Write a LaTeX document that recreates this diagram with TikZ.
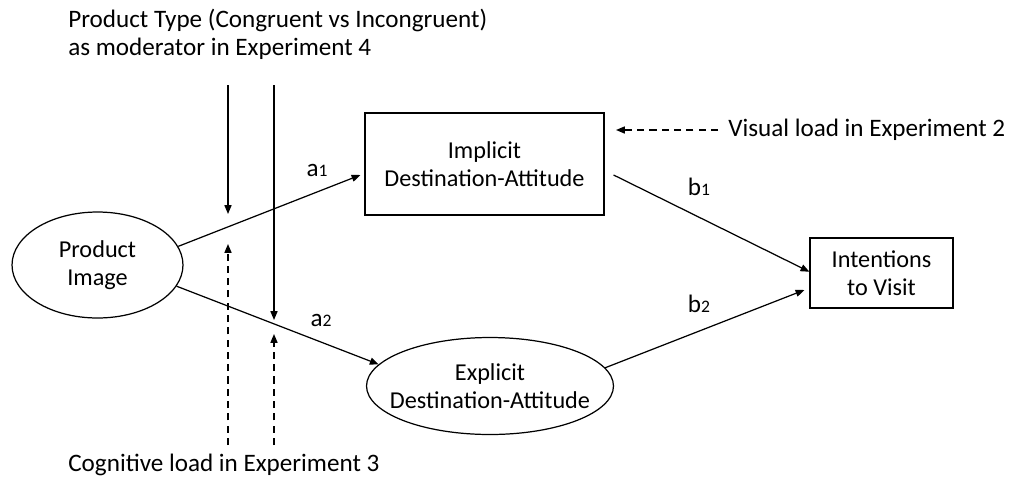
\documentclass[tikz,border=0pt]{standalone}
\usepackage{fontspec}
\setmainfont{Carlito}
\usepackage{tikz}
\usetikzlibrary{shapes.geometric, arrows.meta, positioning}
\tikzstyle{construct} = [ellipse, draw=black, line width=0.7pt, inner sep=0pt]
\tikzstyle{measure} = [rectangle, draw=black, line width=0.7pt, text centered, align=center, font=\fontsize{13.8}{16}\selectfont]
\tikzstyle{inner} = [align=center, font=\fontsize{13.8}{16}\selectfont]
\tikzstyle{note} = [align=left, anchor=west, inner sep=0pt]
\tikzstyle{arrow} = [line width=0.7pt, -{Triangle[length=5pt,width=4pt]}]
\tikzstyle{line} = [draw, arrow]
\tikzstyle{dline} = [draw, arrow, dashed, dash pattern=on 4pt off 3pt]
\newcommand{\sub}[1]{{\fontsize{10}{10}\selectfont #1}}

\begin{document}
\begin{tikzpicture}[x=0.02cm, y=-0.02cm, font=\fontsize{14.3}{16}\selectfont]
        \useasboundingbox (0,0) rectangle (1011,481);

		\node(pimg)   [construct, minimum width=3.42cm, minimum height=2.12cm] at (97.5,265) {};
		\node(pimgt)  [inner] at (pimg) {Product\\Image};
		\node(impl)   [measure, minimum width=4.78cm, minimum height=2.04cm] at (484.5,164) {Implicit\\Destination-Attitude};
		\node(expl)   [construct, minimum width=4.94cm, minimum height=1.94cm] at (490,386) {};
		\node(explt)  [inner] at (expl) {Explicit\\Destination-Attitude};
		\node(intent) [measure, minimum width=2.86cm, minimum height=1.4cm] at (881.5,273) {Intentions\\to Visit};

		\node(ptype) [note] at (68,34) {Product Type (Congruent vs Incongruent)\\as moderator in Experiment 4};
		\node(vis)   [note] at (728,130) {Visual load in Experiment 2};
		\node(cog)   [note] at (68,465) {Cognitive load in Experiment 3};

		\coordinate (m1top) at (228,85);
		\coordinate (m1end) at (228,214);
		\coordinate (m2top) at (274,85);
		\coordinate (m2end) at (274,320);
		\coordinate (c1bot) at (228,445);
		\coordinate (c1end) at (228,244);
		\coordinate (c2bot) at (274,445);
		\coordinate (c2end) at (274,334);
		\coordinate (visend) at (616,130);

		 % Draw edges
		 \path [line] (pimg.13) -- ([xshift=-0.08cm,yshift=-0.22cm]impl.west);
		 \path [line] (pimg.-15) -- (expl.169);
		 \path [line] ([xshift=0.18cm,yshift=-0.22cm]impl.east) -- (intent.179);
		 \path [line] (expl.9) -- ([xshift=-0.1cm,yshift=-0.34cm]intent.west);
		 \path [line] (m1top) -- (m1end);
		 \path [line] (m2top) -- (m2end);
		 \path [dline] (c1bot) -- (c1end);
		 \path [dline] (c2bot) -- (c2end);
		 \path [dline] ([xshift=-0.2cm]vis.west) -- (visend);

		 % Path labels
		 \node(la1) at (317,170) {a\sub{1}};
		 \node(la2) at (321,320) {a\sub{2}};
		 \node(lb1) at (699,187) {b\sub{1}};
		 \node(lb2) at (699,304) {b\sub{2}};

\end{tikzpicture}
\end{document}
